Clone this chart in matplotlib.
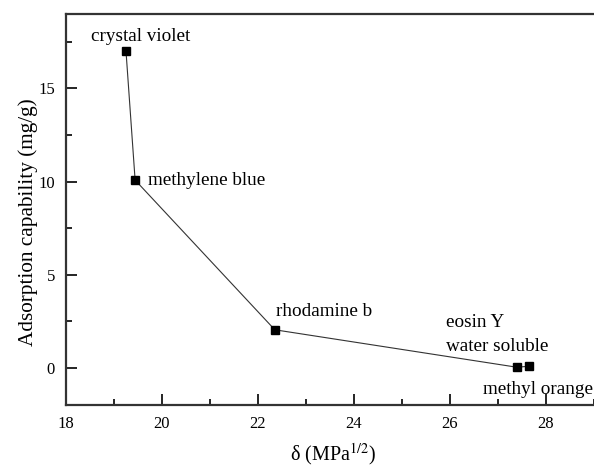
import matplotlib.pyplot as plt
from matplotlib.ticker import MultipleLocator

plt.rcParams['font.family'] = ['Liberation Serif', 'DejaVu Serif']
plt.rcParams['mathtext.fontset'] = 'stix'

# solubility parameter vs adsorbed amount for each dye
dyes = ['crystal violet', 'methylene blue', 'rhodamine b', 'eosin Y\nwater soluble', 'methyl orange']
delta = [19.25, 19.44, 22.35, 27.39, 27.65]
capacity = [17.0, 10.08, 2.04, 0.03, 0.08]

# label placement offsets (points) relative to each marker
label_offsets = [(-25, 7.5), (9.5, -3.6), (0.7, 10), (-51, 11.7), (-33, -20)]

fig = plt.figure(figsize=(5.94, 4.66), dpi=100)
ax = fig.add_axes([66 / 594, 1 - 405 / 466, 534 / 594, 391 / 466])

ax.plot(delta, capacity, color='#333333', linewidth=0.8, marker='s',
        markersize=6, markerfacecolor='black', markeredgecolor='black')

for name, x, y, off in zip(dyes, delta, capacity, label_offsets):
    ax.annotate(name, (x, y), xytext=off, textcoords='offset points',
                ha='left', va='baseline', fontsize=13.8, linespacing=1.52)

ax.set_xlim(18, 29.125)
ax.set_ylim(-2, 19)
ax.xaxis.set_major_locator(MultipleLocator(2))
ax.xaxis.set_minor_locator(MultipleLocator(1))
ax.yaxis.set_major_locator(MultipleLocator(5))
ax.yaxis.set_minor_locator(MultipleLocator(2.5))
ax.tick_params(which='both', direction='in', width=1.2, labelsize=12, pad=8)
ax.tick_params(which='major', length=8)
ax.tick_params(which='minor', length=4.5)
for sp in ax.spines.values():
    sp.set_linewidth(1.6)
    sp.set_color('#333333')

ax.set_xlabel(r'δ (MPa$^{\mathrm{1/2}}$)', fontsize=14.5, labelpad=6.5)
ax.set_ylabel('Adsorption capability (mg/g)', fontsize=15.3)
ax.yaxis.set_label_coords(-0.0524, 0.468)

fig.savefig('out.png', dpi=100)
